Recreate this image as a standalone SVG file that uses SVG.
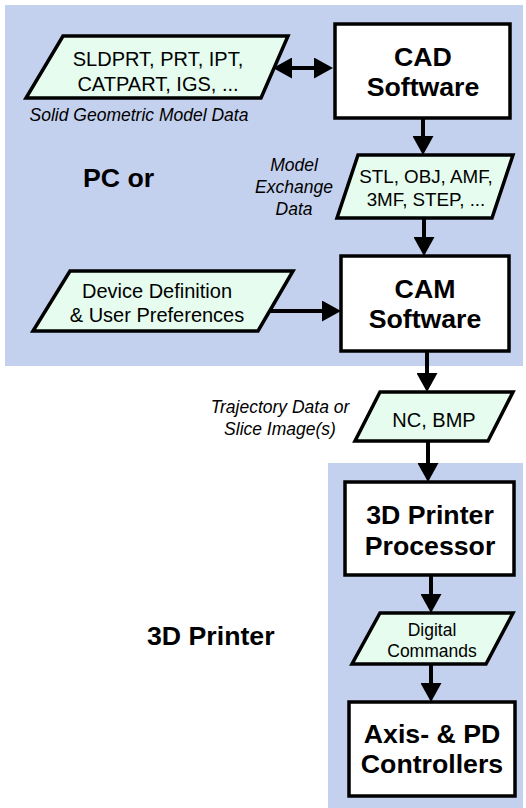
<svg xmlns="http://www.w3.org/2000/svg" width="526" height="808" viewBox="0 0 526 808">
<style>
  .zone { fill: #C4D1EE; stroke: none; }
  .box { fill: #FFFFFF; stroke: #000000; stroke-width: 3.5; }
  .data { fill: #E6FCEE; stroke: #000000; stroke-width: 3.5; stroke-linejoin: miter; }
  .title { font-family: "Liberation Sans", Arial, sans-serif; font-weight: bold; font-size: 26.7px; fill: #000; text-anchor: middle; }
  .label { font-family: "Liberation Sans", Arial, sans-serif; font-size: 20px; fill: #000; text-anchor: middle; }
  .note { font-family: "Liberation Sans", Arial, sans-serif; font-style: italic; font-size: 17.5px; fill: #000; text-anchor: middle; }
  .zonelabel { font-family: "Liberation Sans", Arial, sans-serif; font-weight: bold; font-size: 26.7px; fill: #000; }
  .conn { stroke: #000; stroke-width: 4; fill: none; }
</style>
<defs>
  <marker id="ah" markerUnits="userSpaceOnUse" markerWidth="19" markerHeight="21" refX="13" refY="10.5" orient="auto-start-reverse">
    <path d="M0,0 L19,10.5 L0,21 Z" fill="#000"/>
  </marker>
</defs>

<rect class="zone" x="5" y="5" width="518" height="361"/>
<rect class="zone" x="328" y="463" width="195" height="345"/>

<text class="zonelabel" x="83" y="187">PC or</text>
<text class="zonelabel" x="147" y="645">3D Printer</text>

<g id="connectors">
  <line class="conn" x1="279" y1="68" x2="327" y2="68" marker-start="url(#ah)" marker-end="url(#ah)"/>
  <line class="conn" x1="423" y1="118" x2="423" y2="149" marker-end="url(#ah)"/>
  <line class="conn" x1="424" y1="218" x2="424" y2="250" marker-end="url(#ah)"/>
  <line class="conn" x1="270" y1="311" x2="335" y2="311" marker-end="url(#ah)"/>
  <line class="conn" x1="427" y1="351" x2="427" y2="386" marker-end="url(#ah)"/>
  <line class="conn" x1="428" y1="441" x2="428" y2="476" marker-end="url(#ah)"/>
  <line class="conn" x1="431" y1="575" x2="431" y2="607" marker-end="url(#ah)"/>
  <line class="conn" x1="431" y1="664" x2="431" y2="696" marker-end="url(#ah)"/>
</g>

<g id="native-formats">
  <polygon class="data" points="63,36 288,36 261,98 26,98"/>
  <text class="label" x="158" y="66">SLDPRT, PRT, IPT,</text>
  <text class="label" x="158" y="91">CATPART, IGS, ...</text>
</g>
<text class="note" x="139" y="121">Solid Geometric Model Data</text>

<g id="cad">
  <rect class="box" x="335" y="24" width="175" height="94"/>
  <text class="title" x="423" y="66">CAD</text>
  <text class="title" x="423" y="96">Software</text>
</g>

<g id="exchange-formats">
  <polygon class="data" points="358,155 513,155 492,218 337,218"/>
  <text class="label" x="426" y="183" style="font-size:18.8px">STL, OBJ, AMF,</text>
  <text class="label" x="426" y="206" style="font-size:18.8px">3MF, STEP, ...</text>
</g>
<text class="note" x="294" y="171">Model</text>
<text class="note" x="294" y="193">Exchange</text>
<text class="note" x="294" y="215">Data</text>

<g id="device">
  <polygon class="data" points="70,271 293,271 258,331 33,331"/>
  <text class="label" x="157" y="298">Device Definition</text>
  <text class="label" x="157" y="322">&amp; User Preferences</text>
</g>

<g id="cam">
  <rect class="box" x="341" y="256" width="168" height="95"/>
  <text class="title" x="425" y="298">CAM</text>
  <text class="title" x="425" y="328">Software</text>
</g>

<g id="slice-data">
  <polygon class="data" points="380,392 513,392 488,441 355,441"/>
  <text class="label" x="434" y="427">NC, BMP</text>
</g>
<text class="note" x="280" y="413">Trajectory Data or</text>
<text class="note" x="280" y="435">Slice Image(s)</text>

<g id="processor">
  <rect class="box" x="345" y="482" width="169" height="93"/>
  <text class="title" x="430" y="524">3D Printer</text>
  <text class="title" x="430" y="555">Processor</text>
</g>

<g id="commands">
  <polygon class="data" points="380,613 513,613 486,664 352,664"/>
  <text class="label" x="432" y="636" style="font-size:17.5px">Digital</text>
  <text class="label" x="432" y="657" style="font-size:17.5px">Commands</text>
</g>

<g id="controllers">
  <rect class="box" x="349" y="702" width="166" height="94"/>
  <text class="title" x="432" y="743">Axis- &amp; PD</text>
  <text class="title" x="432" y="773">Controllers</text>
</g>
</svg>
